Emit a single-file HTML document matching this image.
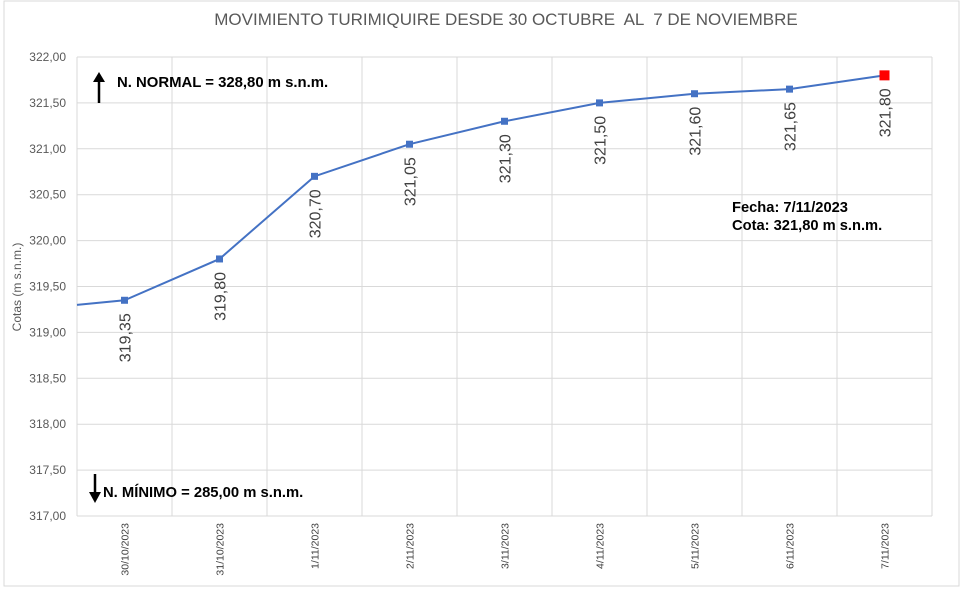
<!DOCTYPE html>
<html><head><meta charset="utf-8"><style>
body{margin:0;background:#fff;font-family:"Liberation Sans",sans-serif}
svg{display:block}
</style></head><body>
<svg width="968" height="592">
<rect x="4" y="1" width="955" height="585" fill="#fff" stroke="#d9d9d9"/>
<text x="506" y="25" text-anchor="middle" font-size="17" fill="#595959" style="white-space:pre">MOVIMIENTO TURIMIQUIRE DESDE 30 OCTUBRE  AL  7 DE NOVIEMBRE</text>
<g id="grid"></g><g id="yt"></g><g id="xt"></g><g id="series"></g><g id="lbl"></g>
<text transform="translate(21,287) rotate(-90)" text-anchor="middle" font-size="12" fill="#595959">Cotas (m s.n.m.)</text>
<g>
<line x1="99" y1="103" x2="99" y2="80" stroke="#000" stroke-width="2.5"/><polygon points="93,82 105,82 99,72" fill="#000"/>
<text x="117" y="87" font-size="14.9" font-weight="bold">N. NORMAL = 328,80 m s.n.m.</text></g>
<g>
<line x1="95" y1="474" x2="95" y2="494" stroke="#000" stroke-width="2.5"/><polygon points="89,492 101,492 95,503" fill="#000"/>
<text x="103" y="497" font-size="14.8" font-weight="bold">N. MÍNIMO = 285,00 m s.n.m.</text></g>
<g font-size="14.7" font-weight="bold">
<text x="732" y="212">Fecha: 7/11/2023</text><text x="732" y="230">Cota: 321,80 m s.n.m.</text></g>
</svg>
<script>
const categories=["30/10/2023","31/10/2023","1/11/2023","2/11/2023","3/11/2023","4/11/2023","5/11/2023","6/11/2023","7/11/2023"];
const values=[319.35,319.80,320.70,321.05,321.30,321.50,321.60,321.65,321.80];
const valueLabels=["319,35","319,80","320,70","321,05","321,30","321,50","321,60","321,65","321,80"];
const startValue=319.30;
const yTicks=[317,317.5,318,318.5,319,319.5,320,320.5,321,321.5,322];
const yTickLabels=["317,00","317,50","318,00","318,50","319,00","319,50","320,00","320,50","321,00","321,50","322,00"];
const NS="http://www.w3.org/2000/svg";
const L=77,R=932,T=57,B=516,yMin=317,yMax=322;
const bw=(R-L)/categories.length;
const y=v=>B-(v-yMin)/(yMax-yMin)*(B-T);
const x=i=>L+bw*(i+0.5);
function mk(t,a,p){const e=document.createElementNS(NS,t);for(const k in a)e.setAttribute(k,a[k]);p.appendChild(e);return e;}
const g=document.getElementById('grid'),yt=document.getElementById('yt'),xt=document.getElementById('xt'),s=document.getElementById('series'),lb=document.getElementById('lbl');
yTicks.forEach((v,i)=>{
 const l=mk('line',{x1:L,x2:R,y1:y(v),y2:y(v),stroke:'#d9d9d9'},g);
 
 
 const t=mk('text',{x:66,y:y(v)+4,'text-anchor':'end','font-size':12,fill:'#595959'},yt);t.textContent=yTickLabels[i];
 
 
});
for(let i=0;i<=categories.length;i++){
 const l=mk('line',{x1:L+bw*i,x2:L+bw*i,y1:T,y2:B,stroke:'#d9d9d9'},g);
 
 
}
categories.forEach((c,i)=>{
 const t=mk('text',{transform:`translate(${x(i)+4},523) rotate(-90)`,'text-anchor':'end','font-size':10.5,fill:'#404040'},xt);t.textContent=c;
 
 
});
let d=`M${L},${y(startValue)}`;values.forEach((v,i)=>d+=`L${x(i)},${y(v)}`);
const p=mk('path',{d:d,fill:'none',stroke:'#4472c4','stroke-width':2},s);


values.forEach((v,i)=>{
 const last=i===values.length-1,sz=last?10:7;
 const r=mk('rect',{x:x(i)-sz/2,y:y(v)-sz/2,width:sz,height:sz,fill:last?'#ff0000':'#4472c4'},s);
 
 
 const t=mk('text',{transform:`translate(${x(i)+6},${y(v)+13}) rotate(-90)`,'text-anchor':'end','font-size':16,fill:'#404040'},lb);t.textContent=valueLabels[i];
 
 
});
</script>
</body></html>
